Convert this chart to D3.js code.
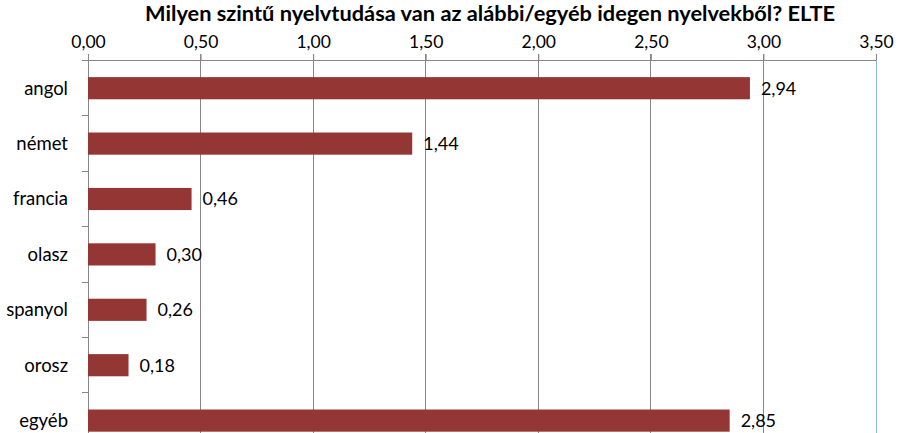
<!DOCTYPE html>
<html>
<head>
<meta charset="utf-8">
<script src="https://cdn.jsdelivr.net/npm/d3@7"></script>
<style>
  body { margin: 0; background: #fff; }
  svg { font-family: Lato, "Open Sans", sans-serif; }
</style>
</head>
<body>
<div id="chart"></div>
<script>
const w = 900, h = 433;

// data
const categories = ['angol', 'német', 'francia', 'olasz', 'spanyol', 'orosz', 'egyéb'];
const values = [2.94, 1.44, 0.46, 0.30, 0.26, 0.18, 2.85];
const ticks = [0, 0.5, 1, 1.5, 2, 2.5, 3, 3.5];
const title = 'Milyen szintű nyelvtudása van az alábbi/egyéb idegen nyelvekből? ELTE';

const fmt = v => v.toFixed(2).replace('.', ',');

const svg = d3.select('#chart').append('svg').attr('width', w).attr('height', h);

const x = d3.scaleLinear().domain([0, 3.5]).range([88, 876]);
const y = d3.scaleBand().domain(categories).range([60.5, 60.5 + 55.4 * categories.length]).paddingInner(0.6).paddingOuter(0.3);

// title
svg.append('text')
  .attr('x', 145).attr('y', 21)
  .attr('textLength', 690).attr('lengthAdjust', 'spacingAndGlyphs')
  .style('font-size', '20px').style('font-weight', 'bold').style('fill', '#000')
  .text(title);

// gridlines
svg.append('g').selectAll('line').data(ticks).join('line')
  .attr('x1', d => x(d)).attr('x2', d => x(d))
  .attr('y1', 54).attr('y2', h)
  .attr('stroke', d => d === 3.5 ? '#8fb4e3' : '#878787').attr('stroke-width', 1)
  .attr('shape-rendering', 'crispEdges');

// top axis
const xAxis = d3.axisTop(x).tickValues(ticks).tickFormat(fmt).tickSize(6).tickPadding(6);
const gx = svg.append('g').attr('transform', 'translate(0,60)').call(xAxis);
gx.attr('font-family', null).attr('font-size', null);
gx.select('.domain').attr('stroke', '#878787').attr('d', `M${x(0)},0.5H${x(3.5)}`);
gx.selectAll('.tick line').attr('stroke', '#878787');
gx.selectAll('.tick text').style('font-size', '17.5px').style('fill', '#000');

// left axis ticks (category boundaries)
const bounds = d3.range(categories.length + 1).map(i => 60.5 + 55.4 * i);
svg.append('g').selectAll('line').data(bounds).join('line')
  .attr('x1', x(0) - 6).attr('x2', x(0))
  .attr('y1', d => d).attr('y2', d => d)
  .attr('stroke', '#878787').attr('shape-rendering', 'crispEdges');

// category labels
svg.append('g').selectAll('text').data(categories).join('text')
  .attr('x', 68).attr('y', d => y(d) + y.bandwidth() / 2)
  .attr('dy', '0.35em').attr('text-anchor', 'end')
  .style('font-size', '18.5px').style('fill', '#000')
  .text(d => d);

// bars
svg.append('g').selectAll('rect').data(values).join('rect')
  .attr('x', x(0)).attr('y', (d, i) => y(categories[i]))
  .attr('width', d => x(d) - x(0)).attr('height', y.bandwidth())
  .attr('fill', '#943634');

// value labels
svg.append('g').selectAll('text').data(values).join('text')
  .attr('x', d => x(d) + 11).attr('y', (d, i) => y(categories[i]) + y.bandwidth() / 2)
  .attr('dy', '0.35em')
  .style('font-size', '18px').style('fill', '#000')
  .text(fmt);
</script>
</body>
</html>
